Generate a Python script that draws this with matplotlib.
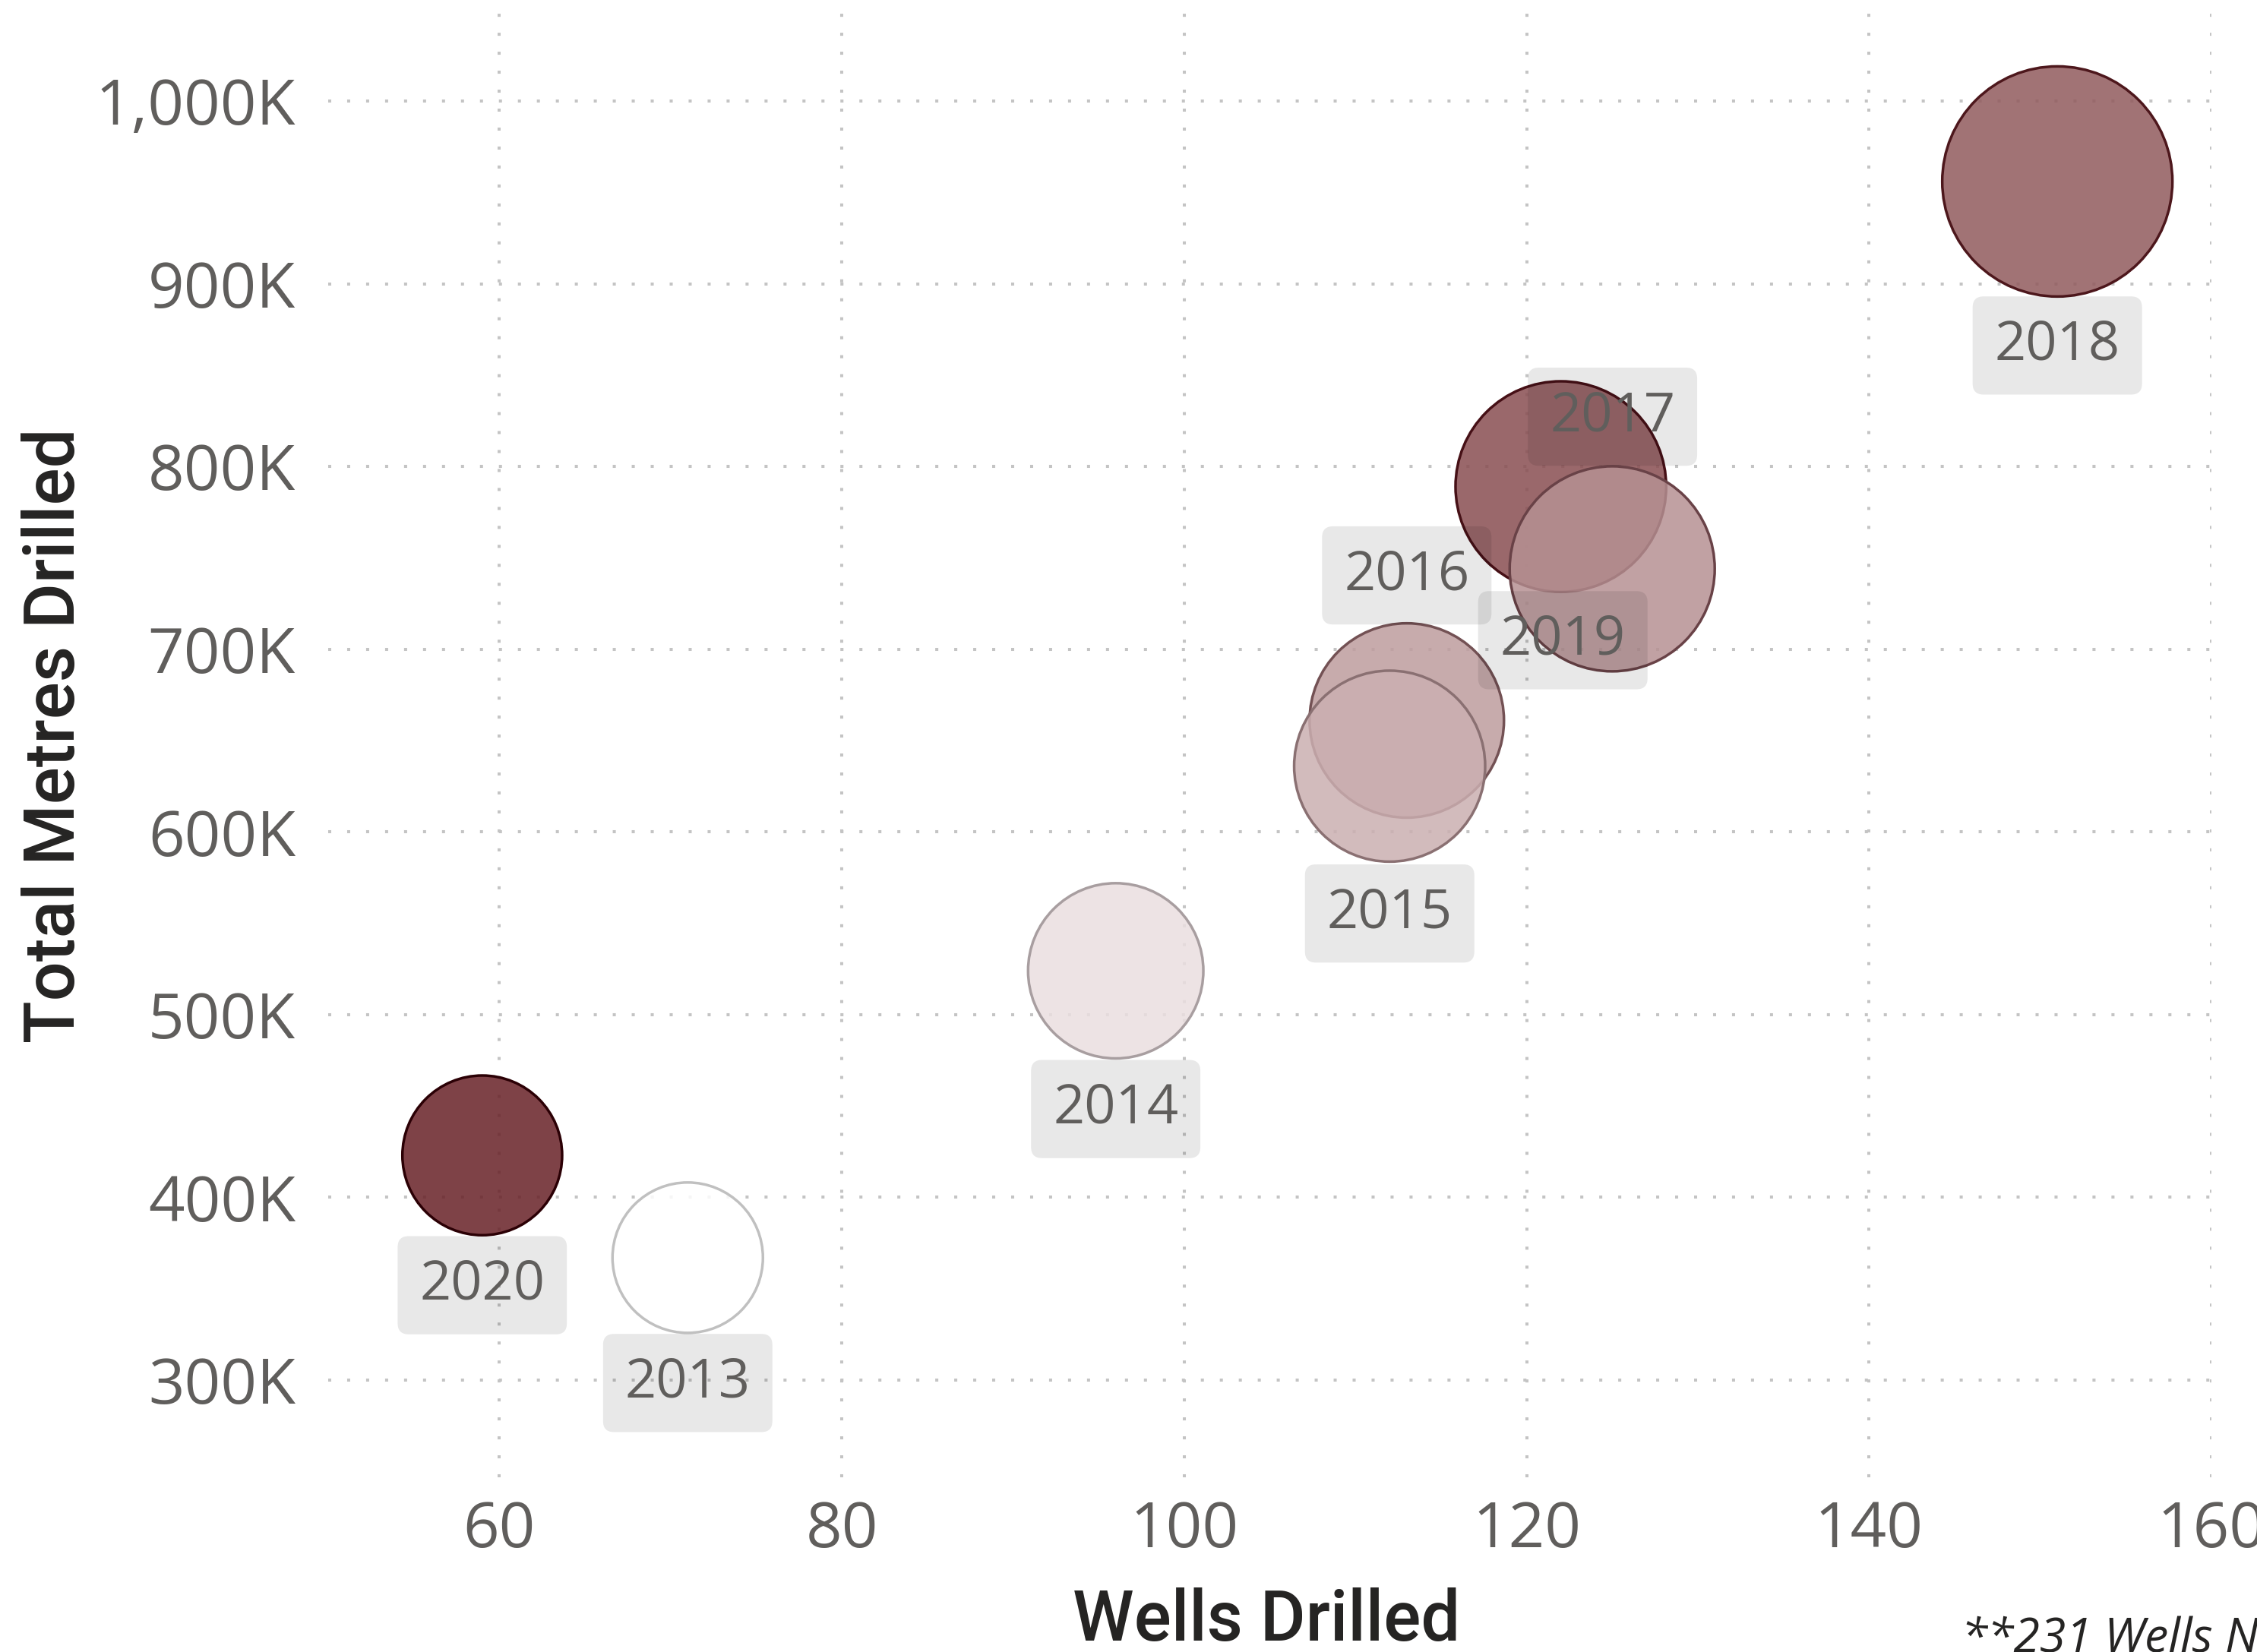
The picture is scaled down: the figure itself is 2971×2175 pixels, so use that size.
import numpy as np
import matplotlib
matplotlib.use("Agg")
import matplotlib.pyplot as plt
from matplotlib.colors import LinearSegmentedColormap
from matplotlib.ticker import FuncFormatter, FixedLocator

# data
years = ["2013", "2014", "2015", "2016", "2017", "2018", "2019", "2020"]
wells = [71, 96, 112, 113, 122, 151, 125, 59]
metres = [367000, 524000, 636000, 661000, 789000, 956000, 744000, 423000]

x_ticks = [60, 80, 100, 120, 140, 160]
y_ticks = [300000, 400000, 500000, 600000, 700000, 800000, 900000, 1000000]

# label placement (offset of the label box centre from the bubble, in pixels)
label_offsets = {
    "2013": (0, -165), "2014": (0, -182), "2015": (0, -194), "2016": (0, 191),
    "2017": (68, 92), "2018": (0, -216), "2019": (-65, -94), "2020": (0, -171),
}

W, H, DPI = 2971, 2175, 100
TXT = "#605E5C"
DARK = "#252423"

fill_cmap = LinearSegmentedColormap.from_list("fill", [
    (0.0, "#FFFFFF"), (0.145, "#EADFE0"), (0.255, "#CBAFB1"),
    (0.39, "#B69294"), (0.6, "#8D5457"), (1.0, "#682127")])
edge_cmap = LinearSegmentedColormap.from_list("edge", [
    (0.0, "#C0C0C0"), (0.145, "#A89EA0"), (0.255, "#8A7072"),
    (0.36, "#6E4A4E"), (0.6, "#4A1218"), (1.0, "#2B0005")])

fig = plt.figure(figsize=(W / DPI, H / DPI), dpi=DPI)
ax = fig.add_axes([432 / W, 1 - 1945 / H, (2911 - 432) / W, 1945 / H])

wells_a = np.array(wells, dtype=float)
metres_a = np.array(metres, dtype=float)

# bubble size: area scales with metres drilled
area_px = np.interp(metres_a, [metres_a.min(), metres_a.max()], [99 ** 2, 151.5 ** 2])
s = (2 * np.sqrt(area_px) * 72 / DPI) ** 2

# bubble colour: metres per well
ratio = metres_a / wells_a
t = (ratio - ratio.min()) / (ratio.max() - ratio.min())
fc = fill_cmap(t)
fc[:, 3] = 0.85
ec = edge_cmap(t)

order = np.argsort(-metres_a)
ax.scatter(wells_a[order], metres_a[order], s=s[order], facecolors=fc[order],
           edgecolors=ec[order], linewidths=2.5, zorder=3, clip_on=False)

for i, yr in enumerate(years):
    dx, dy = label_offsets[yr]
    ax.annotate(yr, (wells[i], metres[i]), xytext=(dx, dy), textcoords="offset pixels",
                ha="center", va="center", fontsize=52, color=TXT, family="Open Sans",
                bbox=dict(boxstyle="round,pad=0.4,rounding_size=0.2",
                          fc=(0, 0, 0, 0.09), ec="none"),
                zorder=5, annotation_clip=False)

ax.set_xlim(50, 160)
ax.set_ylim(246800, 1055300)
ax.xaxis.set_major_locator(FixedLocator(x_ticks))
ax.yaxis.set_major_locator(FixedLocator(y_ticks))
ax.yaxis.set_major_formatter(FuncFormatter(lambda v, p: f"{v / 1000:,.0f}K"))

ax.grid(True, color="#C4C4C4", linestyle=(0, (1, 5.2)), linewidth=2.9)
ax.set_axisbelow(True)
for sp in ax.spines.values():
    sp.set_visible(False)
ax.tick_params(length=0, labelsize=60, labelcolor=TXT)
ax.tick_params(axis="y", pad=31)
ax.tick_params(axis="x", pad=21)
for lab in ax.get_xticklabels() + ax.get_yticklabels():
    lab.set_family("Open Sans")

fig.text(1667 / W, 1 - 2160 / H, "Wells Drilled", ha="center", va="baseline",
         fontsize=66, color=DARK, family="Roboto", weight="medium")
fig.text(73 / W, 1 - 968 / H, "Total Metres Drilled", ha="center", va="center",
         rotation=90, fontsize=66, color=DARK, family="Roboto", weight="medium")
fig.text(2582 / W, 1 - 2176 / H, "**231 Wells Not Included", ha="left", va="baseline",
         fontsize=45, color=DARK, family="Open Sans", style="italic")

fig.savefig("out.png", dpi=DPI)
